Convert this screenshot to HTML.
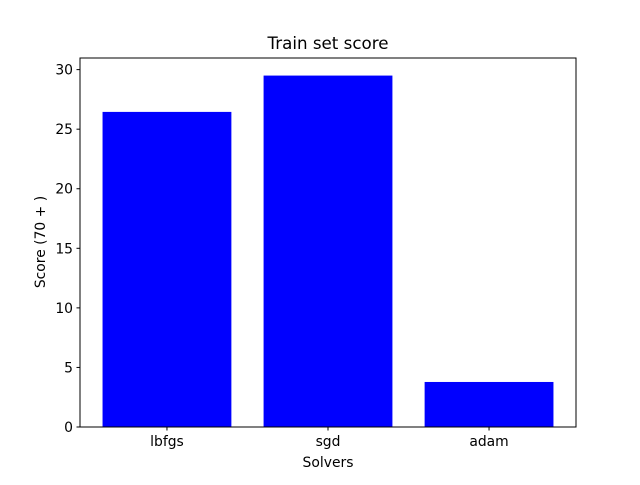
<!DOCTYPE html>
<html><head><meta charset="utf-8"><style>
body{margin:0;background:#fff;}
svg text{font-family:"DejaVu Sans","Liberation Sans",sans-serif;fill:#000;}
</style></head><body>
<svg id="chart" width="640" height="480" viewBox="0 0 640 480">
<rect width="640" height="480" fill="#fff"/>
<text x="328" y="49" font-size="16.7" text-anchor="middle">Train set score</text>
<g id="bars"></g><g id="yt"></g><g id="xt"></g>
<rect x="80" y="58" width="496" height="369" fill="none" stroke="#000" stroke-width="1"/>
<text x="328" y="467" font-size="13.9" text-anchor="middle">Solvers</text>
<text transform="translate(45,242) rotate(-90)" font-size="13.9" text-anchor="middle">Score (70 + )</text>
</svg>
<script>
const categories=["lbfgs","sgd","adam"];
const values=[26.45,29.5,3.78];
const yTicks=[0,5,10,15,20,25,30];
const NS="http://www.w3.org/2000/svg";
const X0=80,X1=576,Y0=427,Y1=58;
const xmin=-0.54,xmax=categories.length-1+0.54,ymax=Math.max(...values)*1.05;
const sx=v=>X0+(v-xmin)/(xmax-xmin)*(X1-X0);
const sy=v=>Y0-v/ymax*(Y0-Y1);
function mk(t,a,p){const e=document.createElementNS(NS,t);for(const k in a)e.setAttribute(k,a[k]);p.appendChild(e);return e;}
const bars=document.getElementById('bars'),yt=document.getElementById('yt'),xt=document.getElementById('xt');
categories.forEach((c,i)=>{
 const r=mk('rect',{x:sx(i-0.4),y:sy(values[i]),width:sx(i+0.4)-sx(i-0.4),height:Y0-sy(values[i]),fill:'#0000ff'},bars);
 
 
 mk('line',{x1:sx(i),x2:sx(i),y1:Y0,y2:Y0+3.5,stroke:'#000'},xt);
 const t=mk('text',{x:sx(i),y:Y0+19,'font-size':13.9,'text-anchor':'middle'},xt);t.textContent=c;
 
 
});
yTicks.forEach(v=>{
 mk('line',{x1:X0-3.5,x2:X0,y1:sy(v),y2:sy(v),stroke:'#000'},yt);
 const t=mk('text',{x:X0-7,y:sy(v)+5,'font-size':13.9,'text-anchor':'end'},yt);t.textContent=v;
 
 
});
</script>
</body></html>
